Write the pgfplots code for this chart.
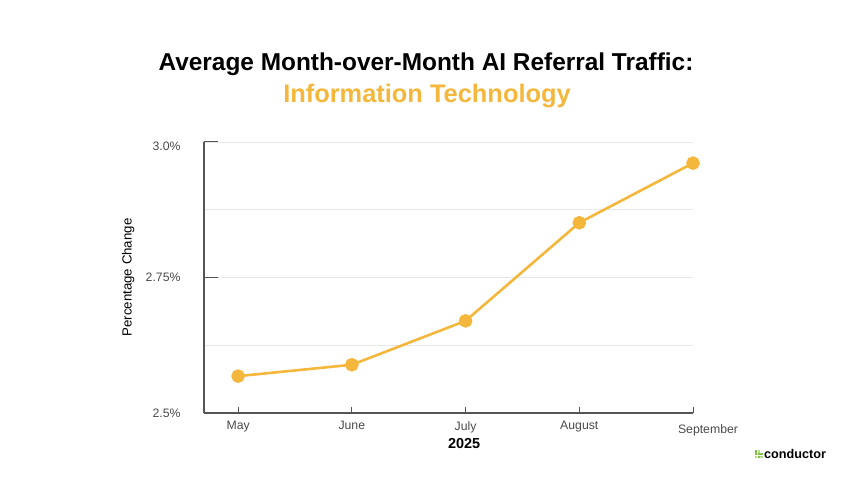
\documentclass[border=0pt]{standalone}
\usepackage{pgfplots}
\pgfplotsset{compat=1.18}
\usepackage{fontspec}
\setmainfont{Liberation Sans}
\definecolor{gold}{HTML}{F4B73C}
\definecolor{axgray}{HTML}{555555}
\definecolor{gridgray}{HTML}{E8E8E8}
\definecolor{tickgray}{HTML}{4A4A4A}
\definecolor{condgreen}{HTML}{7DC242}
\definecolor{condlight}{HTML}{B5DC8A}
\begin{document}
\begin{tikzpicture}[x=1bp,y=1bp]
\path[use as bounding box] (0,0) rectangle (856,486);
% title
\node[font=\fontsize{24.5}{28}\selectfont\bfseries] at (426,422) {Average Month-over-Month AI Referral Traffic:};
\node[font=\fontsize{25.5}{28}\selectfont\bfseries, text=gold] at (427,390) {Information Technology};
\begin{axis}[
    at={(204bp,73bp)}, anchor=south west,
    scale only axis, width=489bp, height=271bp,
    xmin=-0.3, xmax=4, ymin=2.5, ymax=3.0,
    axis x line*=bottom, axis y line*=left,
    axis line style={axgray, line width=1.2bp},
    xtick={0,1,2,3,4},
    xticklabels={May,June,July,August,{\raisebox{-3bp}[\height][\depth]{\hspace*{30bp}September}}},
    ytick={2.5,2.75,3.0},
    yticklabels={2.5\%,2.75\%,{\raisebox{-4bp}[\height][\depth]{3.0\%}}},
    minor ytick={2.625,2.875},
    ymajorgrids, yminorgrids,
    major grid style={gridgray, line width=0.8bp},
    minor grid style={gridgray, line width=0.8bp},
    tick align=inside,
    xtick style={axgray, line width=1bp, /pgfplots/major tick length=6bp},
    ytick style={axgray, line width=1bp, /pgfplots/major tick length=14bp},
    minor tick length=0pt,
    tick label style={font=\fontsize{12.3}{14}\selectfont, text=tickgray},
    yticklabel style={xshift=-20bp},
    xticklabel style={yshift=-5bp},
    ylabel={Percentage Change},
    ylabel style={at={(axis description cs:-0.155,0.5)}, anchor=center,
                  font=\fontsize{13.3}{15}\selectfont},
    xlabel={2025},
    xlabel style={at={(axis description cs:0.532,0)}, anchor=center, yshift=-31bp,
                  font=\fontsize{14.5}{16}\selectfont\bfseries},
    clip=false,
]
\addplot[gold, line width=2.6bp, mark=*, mark size=5.5bp,
         mark options={solid, fill=gold, draw=none}]
    coordinates {(0,2.568) (1,2.589) (2,2.670) (3,2.851) (4,2.961)};
\end{axis}
% logo
\foreach \i/\j/\c in {0/2/condgreen,1/2/condlight,0/1/condgreen,1/1/condgreen,2/1/condgreen,1/0/condgreen,2/0/condlight,0/0/condlight}
  \fill[\c] (755+\i*2.7,28+\j*2.7) rectangle ++(2.3,2.3);
\node[anchor=west, font=\fontsize{12.7}{14}\selectfont\bfseries, inner sep=0pt] at (764,32) {conductor};
\end{tikzpicture}
\end{document}
